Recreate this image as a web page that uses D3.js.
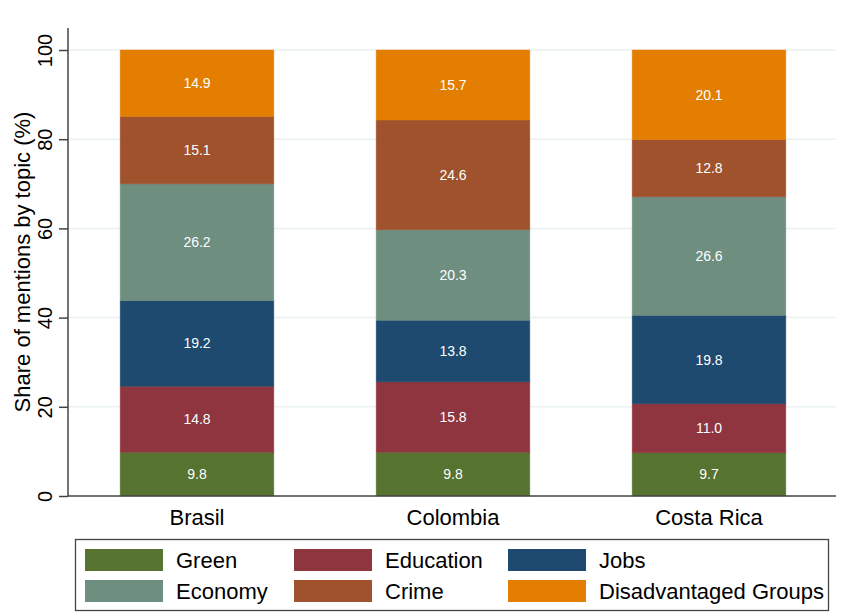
<!DOCTYPE html>
<html>
<head>
<meta charset="utf-8">
<script src="https://cdn.jsdelivr.net/npm/d3@7"></script>
<style>
  html, body { margin: 0; padding: 0; background: #fff; }
  svg { display: block; font-family: "Liberation Sans", Arial, sans-serif; }
</style>
</head>
<body>
<svg id="chart" width="845" height="612"></svg>
<script>
const countries = ["Brasil", "Colombia", "Costa Rica"];
const topics = ["Green", "Education", "Jobs", "Economy", "Crime", "Disadvantaged Groups"];
const green = [9.8, 9.8, 9.7];
const education = [14.8, 15.8, 11.0];
const jobs = [19.2, 13.8, 19.8];
const economy = [26.2, 20.3, 26.6];
const crime = [15.1, 24.6, 12.8];
const disadvantaged = [14.9, 15.7, 20.1];
const yTicks = [0, 20, 40, 60, 80, 100];
const colors = ["#56732f", "#8e3540", "#1d4a6e", "#6e8e80", "#a0522d", "#e37e00"];

const seriesValues = [green, education, jobs, economy, crime, disadvantaged];
const table = countries.map((c, i) => {
  const row = { country: c };
  topics.forEach((t, k) => { row[t] = seriesValues[k][i]; });
  return row;
});

const svg = d3.select("#chart");
const x = d3.scaleBand().domain(countries).range([69, 837]).paddingInner(0.4).paddingOuter(0.2);
const y = d3.scaleLinear().domain([0, 100]).range([496, 50]);
const color = d3.scaleOrdinal().domain(topics).range(colors);

// gridlines
svg.append("g").selectAll("line").data(yTicks.filter(d => d > 0)).join("line")
  .attr("x1", 68).attr("x2", 836)
  .attr("y1", d => y(d)).attr("y2", d => y(d))
  .attr("stroke", "#e9f1f3").attr("stroke-width", 1.5);

const stack = d3.stack().keys(topics)(table);

const layers = svg.append("g").selectAll("g").data(stack).join("g")
  .attr("fill", d => color(d.key));
layers.selectAll("rect").data(d => d).join("rect")
  .attr("x", d => x(d.data.country))
  .attr("width", x.bandwidth())
  .attr("y", d => y(d[1]))
  .attr("height", d => y(d[0]) - y(d[1]))
  .attr("stroke", function() { return d3.select(this.parentNode).attr("fill"); })
  .attr("stroke-opacity", 0.6)
  .attr("stroke-width", 0.8);

layers.selectAll("text").data(d => d).join("text")
  .attr("x", d => x(d.data.country) + x.bandwidth() / 2)
  .attr("y", d => (y(d[0]) + y(d[1])) / 2 + 5)
  .attr("text-anchor", "middle")
  .attr("fill", "#ffffff")
  .attr("font-size", 14)
  .text(d => (d[1] - d[0]).toFixed(1));

// y axis
const yAxis = svg.append("g").attr("transform", "translate(68,0)")
  .call(d3.axisLeft(y).tickValues(yTicks).tickSize(9).tickFormat(d3.format("d")));
yAxis.select(".domain").remove();
yAxis.append("line").attr("x1", 0).attr("x2", 0).attr("y1", 28).attr("y2", 496)
  .attr("stroke", "#444").attr("stroke-width", 1.5);
yAxis.selectAll(".tick line").attr("stroke", "#444").attr("stroke-width", 1.5);
yAxis.selectAll(".tick text")
  .attr("font-size", 20)
  .attr("fill", "#000")
  .attr("font-family", "Liberation Sans, Arial, sans-serif")
  .attr("x", null).attr("dy", null)
  .attr("text-anchor", "middle")
  .attr("transform", "translate(-16,0) rotate(-90)");

// x axis
const xAxis = svg.append("g").attr("transform", "translate(0,496)")
  .call(d3.axisBottom(x).tickSize(0).tickPadding(13));
xAxis.select(".domain").remove();
xAxis.append("line").attr("x1", 68).attr("x2", 836).attr("y1", 0).attr("y2", 0)
  .attr("stroke", "#444").attr("stroke-width", 1.5);
xAxis.selectAll(".tick text")
  .attr("font-size", 22).attr("fill", "#000")
  .attr("font-family", "Liberation Sans, Arial, sans-serif");

// y title
svg.append("text")
  .attr("transform", "translate(30,262) rotate(-90)")
  .attr("text-anchor", "middle")
  .attr("font-size", 22)
  .attr("fill", "#000")
  .text("Share of mentions by topic (%)");

// legend
const legend = svg.append("g");
legend.append("rect").attr("x", 75.5).attr("y", 539.5).attr("width", 753).attr("height", 71)
  .attr("fill", "#fff").attr("stroke", "#444").attr("stroke-width", 1.3);
const colX = [85, 294, 508];
const rowY = [549, 580];
const items = legend.selectAll("g.item").data(topics).join("g").attr("class", "item")
  .attr("transform", (d, i) => `translate(${colX[i % 3]},${rowY[Math.floor(i / 3)]})`);
items.append("rect").attr("width", 78).attr("height", 22).attr("fill", d => color(d));
items.append("text").attr("x", 91).attr("y", 19).attr("font-size", 22).attr("fill", "#000").text(d => d);
</script>
</body>
</html>
